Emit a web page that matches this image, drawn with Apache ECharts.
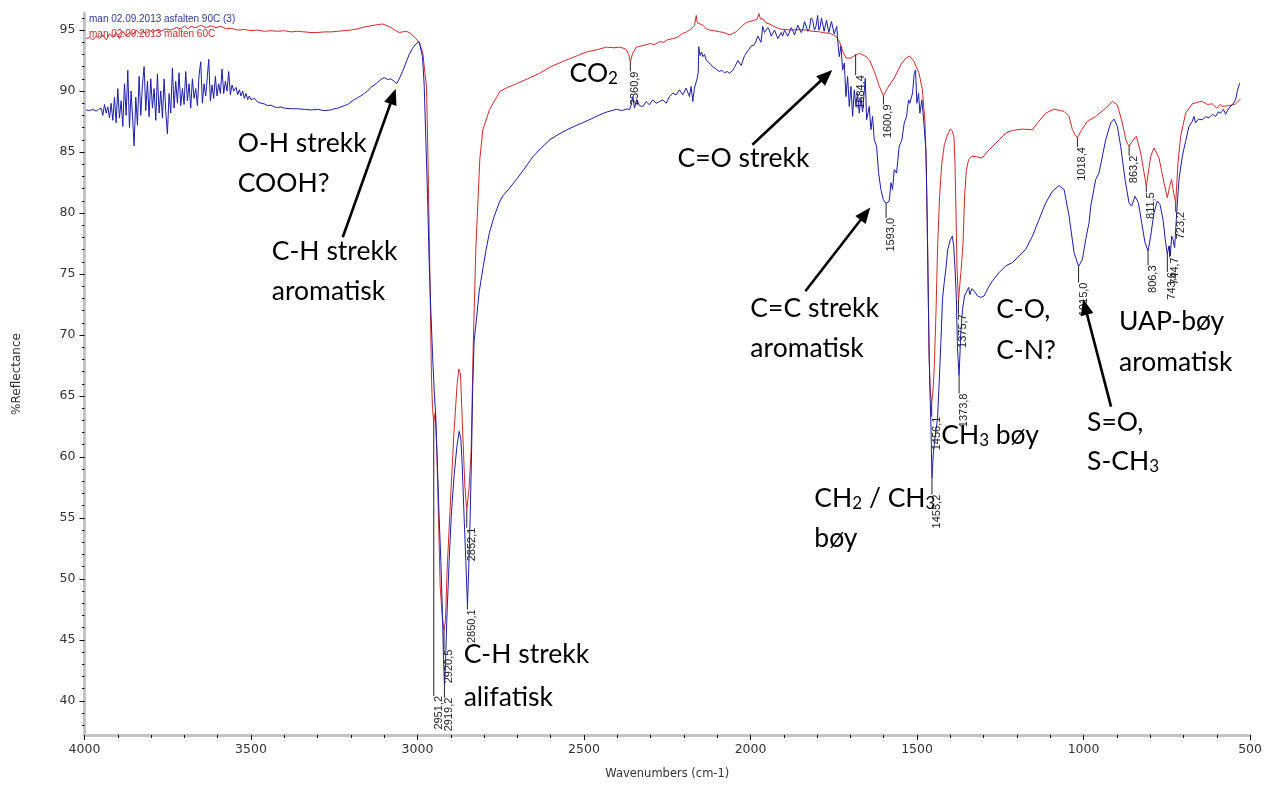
<!DOCTYPE html>
<html><head><meta charset="utf-8">
<script src="https://cdn.jsdelivr.net/npm/echarts@6/dist/echarts.min.js"></script>
<style>html,body{margin:0;padding:0;background:#fff}#c{width:1265px;height:785px}</style>
</head><body><div id="c"></div>
<script>
// ---------- DATA ----------
const seriesNames = ['man 02.09.2013 asfalten 90C (3)', 'man 02.09.2013 malten 60C'];

// [wavenumber, %Reflectance]
const blueSpectrum = [
[3995,88.45],[3985,88.4],[3975,88.5],[3965,88.35],[3957,88.5],
[3950,88.6],[3945,88.0],[3940,88.9],[3935,88.2],[3930,88.7],[3925,87.8],[3920,89.0],[3915,87.6],[3910,89.5],[3905,87.4],
[3900,90.2],[3895,87.8],[3890,89.2],[3885,87.1],[3880,90.6],[3875,88.0],[3870,91.7],[3865,87.0],[3860,90.0],[3855,87.5],
[3851,85.5],[3846,89.5],[3841,87.2],[3836,91.2],[3831,88.0],[3826,90.5],[3821,92.0],[3816,88.4],[3811,90.8],[3806,87.9],
[3801,91.0],[3796,88.6],[3791,90.2],[3786,87.6],[3781,91.4],[3776,88.2],[3771,90.0],[3766,87.8],[3761,91.0],[3756,88.3],
[3751,86.5],[3746,89.8],[3741,88.2],[3736,91.9],[3731,88.6],[3726,90.8],[3721,89.0],[3716,91.5],[3711,88.8],[3706,90.2],
[3701,88.9],[3696,91.6],[3691,89.2],[3686,90.6],[3681,88.6],[3676,91.0],[3671,89.4],[3666,90.2],[3661,88.8],[3656,91.3],
[3651,92.4],[3646,89.0],[3641,90.6],[3636,89.6],[3631,91.2],[3627,92.6],[3622,89.2],[3617,90.5],[3612,89.4],[3607,91.2],
[3602,89.6],[3597,90.6],[3592,89.8],[3587,91.8],[3582,89.8],[3577,90.8],[3572,90.0],[3567,91.6],[3562,89.7],[3557,90.5],
[3552,90.0],[3545,90.3],[3540,89.7],[3535,90.1],[3530,89.6],[3525,90.0],[3520,89.4],[3515,89.8],[3510,89.3],[3505,89.6],
[3500,89.3],[3490,89.4],[3480,89.1],[3470,89.0],[3460,88.95],[3450,88.8],[3440,88.85],[3430,88.7],[3420,88.65],[3410,88.7],
[3400,88.6],[3380,88.55],[3360,88.55],[3340,88.5],[3320,88.45],[3300,88.5],[3280,88.4],[3260,88.45],[3250,88.55],[3240,88.6],
[3230,88.7],[3220,88.8],[3210,88.9],[3200,89.1],[3190,89.3],[3180,89.45],[3170,89.6],[3160,89.8],[3150,90.0],[3140,90.3],
[3130,90.5],[3120,90.7],[3110,90.95],[3100,91.1],[3090,90.95],[3080,91.0],[3070,90.8],[3063,90.6],[3055,91.0],[3045,91.6],
[3035,92.3],[3025,93.0],[3015,93.5],[3005,93.85],[2995,94.05],[2990,93.9],[2985,92.8],[2980,90.5],[2975,86.0],[2970,81.5],
[2965,76.0],[2960,72.0],[2955,68.5],[2950,65.5],[2945,63.2],[2940,59.0],[2935,55.0],[2930,51.5],[2925,47.0],[2922,43.5],
[2919.2,41.4],[2916,43.0],[2912,46.7],[2905,51.5],[2898,55.5],[2890,58.5],[2882,60.8],[2875,62.1],[2870,61.5],[2866,59.4],
[2860,55.0],[2855,51.5],[2850.1,47.8],[2846,51.0],[2842,55.0],[2838,60.0],[2834,66.0],[2830,69.5],[2823,71.3],[2815,73.5],
[2804,75.4],[2794,77.0],[2784,78.4],[2770,79.7],[2754,80.9],[2744,81.4],[2725,82.0],[2703,82.75],[2680,83.6],[2654,84.6],
[2630,85.3],[2603,86.0],[2580,86.4],[2553,86.8],[2530,87.1],[2504,87.4],[2480,87.7],[2453,88.05],[2430,88.3],[2403,88.5],
[2385,88.4],[2370,88.55],[2363.5,88.46],[2358,88.9],[2353.5,89.55],[2348.5,88.6],[2341.5,89.3],[2333.5,88.8],[2323.5,88.73],
[2313.5,89.14],[2303.5,88.87],[2293.5,89.28],[2283.5,89.0],[2273.5,89.14],[2263.5,89.28],[2253.5,89.0],[2243.5,89.55],
[2233.5,89.83],[2223.5,89.69],[2213.5,90.1],[2203.5,89.69],[2193.5,90.24],[2183.5,89.55],[2178.5,90.37],[2173.5,89.14],
[2168.5,90.24],[2161.5,90.9],[2157,91.5],[2155.5,93.64],[2151.5,92.9],[2147,93.2],[2143.5,92.82],[2138,93.0],[2133.5,92.55],
[2128,92.7],[2123.5,92.3],[2118,92.4],[2113.5,92.0],[2108,92.1],[2103.5,91.8],[2098,91.9],[2093.5,91.6],[2086,91.7],
[2078.5,91.5],[2070,91.6],[2063.5,91.45],[2058,91.6],[2053.5,91.7],[2048,91.95],[2043.5,92.0],[2038,92.5],[2033.5,92.4],
[2028,92.1],[2023.5,92.2],[2018,92.9],[2013.5,92.8],[2008,93.3],[2003.5,93.2],[1998,93.7],[1993.5,93.6],[1988,93.8],
[1983.5,93.9],[1978,94.5],[1973.5,94.45],[1968.5,94.0],[1963.5,95.3],[1958,94.8],[1953.5,94.9],[1948,95.2],[1943.5,95.0],
[1938,94.5],[1933.5,94.6],[1928,95.0],[1923.5,94.9],[1918,94.3],[1913.5,94.4],[1908,94.8],[1903.5,94.5],[1898,95.0],
[1893.5,94.9],[1888,94.5],[1883.5,94.6],[1878,95.2],[1873.5,95.0],[1868,94.6],[1863.5,94.7],[1858,95.4],[1853.5,95.3],
[1848,94.8],[1843.5,95.0],[1838,95.7],[1833.5,95.6],[1828,94.9],[1823.5,95.1],[1818,96.0],[1813.5,95.8],[1808,95.0],
[1803.5,95.3],[1798.5,96.2],[1795,95.0],[1791.5,95.2],[1787,96.0],[1783.5,95.9],[1779,94.9],[1775.5,95.0],[1772,95.8],
[1768.5,95.7],[1765,94.8],[1761.5,94.9],[1757,95.7],[1753.5,95.6],[1749,94.7],[1745.5,94.8],[1741,95.3],[1738.5,94.18],
[1733.5,92.82],[1728.5,93.7],[1723.5,91.73],[1718.5,92.3],[1713.5,89.55],[1708.5,91.2],[1703.5,88.73],[1698.5,90.37],
[1693.5,87.92],[1688.5,90.1],[1683.5,88.73],[1678.5,89.83],[1673.5,88.19],[1668.5,89.4],[1663.5,88.3],[1655.5,91.05],
[1651.5,87.65],[1643.5,88.73],[1638.5,86.83],[1633.5,87.92],[1628.5,86.0],[1621.5,85.47],[1615.5,83.29],[1608.5,81.93],
[1601.5,81.11],[1593,80.78],[1583.5,80.97],[1578.5,82.48],[1573.5,81.93],[1568.5,83.56],[1561.5,83.29],[1553.5,85.47],
[1545.5,86.0],[1538.5,87.38],[1531.5,87.92],[1525.5,89.28],[1521.5,89.0],[1513.5,89.83],[1508.5,91.46],[1504.5,91.73],
[1500.5,89.0],[1495.5,89.83],[1491.5,88.19],[1485.5,89.28],[1479.5,87.38],[1473.5,85.2],[1470.5,81.0],[1467,74.5],
[1463.5,68.31],[1461.5,65.59],[1458.5,62.87],[1455.2,58.24],[1451.5,60.14],[1445.5,61.77],[1438.5,63.14],[1433.5,66.14],
[1428.5,69.4],[1423.5,72.94],[1418.5,74.3],[1413.5,75.39],[1408,77.0],[1400,77.8],[1394,78.1],[1390,77.3],[1386,75.5],
[1382,73.0],[1378.5,68.87],[1373.8,66.67],[1368.5,70.22],[1363.5,72.1],[1357.5,73.2],[1352,73.5],[1348.5,73.6],[1345,73.9],
[1341.5,73.3],[1335.5,73.8],[1328.5,73.6],[1318.5,73.2],[1308.5,73.08],[1298.5,73.2],[1288.5,73.76],[1273.5,74.44],
[1253.5,75.12],[1233.5,75.67],[1213.5,75.94],[1193.5,76.48],[1173.5,77.03],[1153.5,78.11],[1133.5,79.48],[1113.5,80.84],
[1093.5,81.79],[1073.5,82.25],[1058.5,81.93],[1043.5,79.75],[1028.5,76.75],[1015,75.61],[1003.5,76.21],[993.5,77.84],
[983.5,79.21],[978.5,80.56],[963.5,82.75],[953.5,83.29],[933.5,86.01],[918.5,87.38],[908.5,87.7],[898.5,87.1],[888.5,85.47],
[875.5,82.75],[863.5,80.84],[855.5,80.57],[845.5,81.38],[835.5,80.84],[825.5,79.21],[815.5,77.57],[806.3,76.89],[798.5,78.11],
[788.5,80.02],[778.5,80.98],[770.5,80.7],[761.5,79.48],[753.5,77.57],[748.5,76.62],[743.5,77.3],[739.5,76.48],[735.5,78.11],
[731.5,77.84],[726.5,77.16],[721.5,79.48],[713.5,82.75],[703.5,84.65],[693.5,85.88],[683.5,87.1],[673.5,87.51],[668.5,87.92],
[663.5,87.4],[655,87.7],[643.5,87.65],[633,87.9],[623.5,87.8],[613,88.1],[603.5,87.92],[595,88.3],[588.5,88.19],[580,88.5],
[573.5,88.1],[563.5,88.6],[553.5,88.87],[543.5,89.28],[538.5,89.96],[531.5,90.64]
];

const redSpectrum = [
[3995,94.3],[3985,94.4],[3975,94.2],[3965,94.5],[3955,94.3],[3945,94.6],[3935,94.2],[3925,94.7],[3915,94.4],[3905,94.8],
[3895,94.3],[3885,94.9],[3875,94.5],[3865,94.8],[3855,94.6],[3845,95.0],[3835,94.7],[3825,94.9],[3815,94.7],[3805,95.0],
[3795,94.8],[3785,95.0],[3770,94.9],[3755,95.1],[3740,95.0],[3725,95.2],[3710,95.1],[3700,95.35],[3690,95.1],[3680,95.3],
[3665,95.2],[3650,95.4],[3635,95.2],[3620,95.35],[3605,95.2],[3590,95.3],[3575,95.1],[3560,95.15],[3540,95.0],[3520,95.05],
[3500,94.95],[3480,95.0],[3460,94.9],[3440,94.95],[3420,94.9],[3400,94.95],[3380,94.85],[3360,94.9],[3340,94.85],[3320,94.8],
[3300,94.8],[3280,94.85],[3260,94.85],[3240,94.9],[3220,94.95],[3200,95.0],[3180,95.1],[3160,95.25],[3140,95.35],[3120,95.45],
[3105,95.5],[3095,95.4],[3080,95.2],[3065,94.95],[3055,94.8],[3045,94.85],[3035,94.9],[3025,94.8],[3015,94.6],[3005,94.3],
[2995,94.0],[2990,93.6],[2984,93.1],[2978,91.5],[2973,90.4],[2969,85.0],[2964,76.8],[2958,66.4],[2955,64.0],[2951.2,62.8],
[2947,63.6],[2942,60.5],[2937,55.0],[2932,49.4],[2926,47.0],[2920.5,45.7],[2916,46.7],[2911,50.8],[2901,56.4],[2891,61.8],
[2881,66.0],[2876,67.2],[2871,66.8],[2866,63.2],[2858,57.7],[2852.1,55.6],[2845,57.5],[2839,60.5],[2833,68.8],[2825,77.0],
[2813,84.4],[2804,86.8],[2784,88.46],[2753,89.96],[2730,90.3],[2703,90.6],[2670,91.0],[2633,91.46],[2600,92.0],[2553,92.55],
[2520,92.9],[2493,93.2],[2460,93.4],[2433,93.6],[2410,93.55],[2393,93.6],[2380,93.5],[2373,93.4],[2366,93.0],[2360.9,92.4],
[2354,93.1],[2343,93.6],[2320,93.75],[2300,93.9],[2290,93.8],[2273,94.05],[2260,94.0],[2250,94.2],[2234,94.3],[2220,94.4],
[2204,94.73],[2195,94.8],[2183,95.0],[2175,95.2],[2168,95.4],[2163,96.2],[2160,95.6],[2155,95.5],[2143,95.4],[2133,95.1],
[2123,95.0],[2110,94.95],[2093,94.86],[2080,94.8],[2063,94.6],[2055,94.7],[2043,94.86],[2033,95.1],[2023,95.4],[2013,95.6],
[2004,95.7],[1995,95.75],[1988,95.8],[1980,95.9],[1975,96.36],[1970,95.9],[1963,95.95],[1955,95.6],[1943,95.5],[1930,95.3],
[1913,95.1],[1900,95.05],[1874,95.0],[1855,95.05],[1833,95.0],[1815,94.9],[1793,94.86],[1780,94.78],[1763,94.73],[1750,94.6],
[1743,94.46],[1733,94.05],[1723,93.23],[1713,92.7],[1708,92.55],[1700,92.7],[1693,92.82],[1680,93.0],[1673,93.1],[1665,93.0],
[1653,92.82],[1643,92.55],[1628,91.6],[1613,90.37],[1600.9,89.6],[1589,90.24],[1569,91.05],[1549,92.14],[1534,92.69],
[1522,92.88],[1509,92.41],[1494,91.46],[1484,90.1],[1476,87.38],[1472,83.5],[1468,77.0],[1464,68.3],[1460,65.3],[1456.1,64.4],
[1452,65.5],[1448,67.5],[1443,72.0],[1438,77.5],[1432,81.5],[1426,84.0],[1418,85.6],[1410,86.3],[1400,86.9],[1394,86.7],
[1389,86.2],[1386,84.0],[1383,80.0],[1380,75.5],[1375.7,72.8],[1372,74.0],[1368,75.2],[1362,77.5],[1357,81.5],[1352,83.5],
[1345,84.4],[1335,84.65],[1320,84.6],[1305,84.5],[1290,85.0],[1275,85.4],[1253.5,86.0],[1233.5,86.56],[1213.5,86.77],
[1183.5,86.88],[1153.5,86.83],[1138.5,87.38],[1113.5,88.19],[1088.5,88.52],[1058.5,88.33],[1043.5,87.92],[1033.5,86.83],
[1025,86.4],[1018.4,86.15],[1008.5,86.7],[988.5,87.51],[963.5,87.92],[933.5,88.6],[913.5,89.15],[898.5,88.87],[883.5,87.38],
[872,85.9],[863.2,85.47],[853.5,85.9],[841.5,86.29],[828.5,84.93],[811.5,82.2],[798.5,84.65],[788.5,85.33],[773.5,84.52],
[758.5,82.48],[748.5,81.25],[741.5,82.2],[735.5,82.75],[729.5,81.66],[723.2,80.84],[716.5,84.11],[708.5,86.29],[693.5,88.19],
[673.5,88.95],[655,89.1],[643.5,89.15],[628,88.9],[613.5,88.95],[600,88.6],[590,88.9],[583.5,88.74],[563.5,88.8],
[543.5,88.95],[528.5,89.34]
];

const yTickValues = [40,45,50,55,60,65,70,75,80,85,90,95];
const yMinorTickValues = [38,39,40,41,42,43,44,45,46,47,48,49,50,51,52,53,54,55,56,57,58,59,60,61,62,63,64,65,66,67,68,69,70,71,72,73,74,75,76,77,78,79,80,81,82,83,84,85,86,87,88,89,90,91,92,93,94,95,96];

// peak labels: [wavenumber, value at peak, value where leader ends, text]
const peakLabels = [
[2951.2,62.8,40.4,'2951,2'],
[2919.2,41.4,40.26,'2919,2'],
[2920.5,45.7,44.2,'2920,5'],
[2850.1,47.8,47.5,'2850,1'],
[2852.1,55.6,54.2,'2852,1'],
[2360.9,92.4,91.6,'2360,9'],
[1684.4,93.0,91.3,'1684,4'],
[1600.9,89.6,88.9,'1600,9'],
[1593.0,80.78,79.6,'1593,0'],
[1456.1,64.4,63.3,'1456,1'],
[1455.2,58.24,56.9,'1455,2'],
[1375.7,72.8,71.7,'1375,7'],
[1373.8,66.67,65.2,'1373,8'],
[1018.4,86.15,85.4,'1018,4'],
[1015.0,75.61,74.3,'1015,0'],
[863.2,85.47,84.7,'863,2'],
[811.5,82.2,81.7,'811,5'],
[806.3,76.89,75.7,'806,3'],
[748.5,76.62,75.15,'743,6'],
[741.5,77.3,76.37,'744,7'],
[723.2,80.84,80.1,'723,2']
];

// annotation lines: [wavenumber (left edge), value (line middle), text]
const annotations = [
[3540,85.69,'O-H strekk'],
[3540,82.42,'COOH?'],
[3437.5,76.86,'C-H strekk'],
[3437.5,73.59,'aromatisk'],
[2543.5,91.41,'CO{s|2}'],
[2219.5,84.46,'C=O strekk'],
[2861.5,43.77,'C-H strekk'],
[2861.5,40.26,'alifatisk'],
[2000.5,72.21,'C=C strekk'],
[2000.5,68.86,'aromatisk'],
[1808.5,56.6,'CH{s|2} / CH{s|3}'],
[1808.5,53.33,'bøy'],
[1427.5,61.75,'CH{s|3} bøy'],
[1262.5,72.12,'C-O,'],
[1262.5,68.69,'C-N?'],
[989.5,62.81,'S=O,'],
[989.5,59.62,'S-CH{s|3}'],
[893.5,71.14,'UAP-bøy'],
[893.5,67.71,'aromatisk']
];

// arrows: [from wavenumber, from value, to wavenumber, to value]
const arrows = [
[3224.5,78.01,3065.5,90.18],
[1994.5,85.6,1754.5,91.73],
[1835.5,73.59,1640.5,80.46],
[917.5,64.12,1001.5,72.94]
];

// ---------- CHART ----------
const chart = echarts.init(document.getElementById('c'), null, {renderer: 'canvas'});
const axisFont = 'DejaVu Sans';
const annoFont = 'Lato';

const option = {
  animation: false,
  backgroundColor: '#ffffff',
  grid: {left: 84.5, right: 14, top: 13, bottom: 48, containLabel: false},
  legend: {
    data: [
      {name: seriesNames[0], textStyle: {color: '#2c3a9c'}},
      {name: seriesNames[1], textStyle: {color: '#c23030'}}
    ],
    orient: 'vertical', left: 83, top: 14, padding: 0,
    itemWidth: 0, itemHeight: 0, itemGap: 5, selectedMode: false,
    textStyle: {fontSize: 10, fontFamily: 'Liberation Sans'}
  },
  xAxis: {
    type: 'value', inverse: true, min: 500, max: 4000, interval: 500,
    name: 'Wavenumbers (cm-1)', nameLocation: 'middle', nameGap: 33,
    nameTextStyle: {fontSize: 11.5, fontFamily: axisFont, color: '#333'},
    axisLine: {show: true, onZero: false, lineStyle: {color: '#c4c4c4', width: 3}},
    axisTick: {show: true, length: 5, lineStyle: {color: '#111', width: 1}},
    minorTick: {show: true, splitNumber: 5, length: 3, lineStyle: {color: '#111', width: 1}},
    axisLabel: {color: '#333', fontSize: 12.5, fontFamily: axisFont, margin: 8, formatter: function (v) { return String(v); }},
    splitLine: {show: false}, minorSplitLine: {show: false}
  },
  yAxis: [{
    type: 'value', min: 37.2, max: 96.4,
    name: '%Reflectance', nameLocation: 'middle', nameGap: 62, nameRotate: 90,
    nameTextStyle: {fontSize: 12, fontFamily: axisFont, color: '#333'},
    axisLine: {show: true, onZero: false, lineStyle: {color: '#c4c4c4', width: 3}},
    axisTick: {show: true, length: 5, customValues: yTickValues, lineStyle: {color: '#111', width: 1}},
    axisLabel: {color: '#333', fontSize: 12.5, fontFamily: axisFont, margin: 9, customValues: yTickValues, formatter: function (v) { return String(v); }},
    splitLine: {show: false}
  }, {
    type: 'value', min: 37.2, max: 96.4, position: 'left', offset: 0,
    axisLine: {show: false}, axisLabel: {show: false}, splitLine: {show: false},
    axisTick: {show: true, length: 2.5, customValues: yMinorTickValues, lineStyle: {color: '#111', width: 1}}
  }],
  series: [
    {
      name: seriesNames[1], type: 'line', data: redSpectrum, showSymbol: false, symbol: 'none',
      lineStyle: {width: 1, color: '#cf2a2a'}, itemStyle: {color: '#cf2a2a'}, z: 2
    },
    {
      name: seriesNames[0], type: 'line', data: blueSpectrum, showSymbol: false, symbol: 'none',
      lineStyle: {width: 1, color: '#1d1daa'}, itemStyle: {color: '#1d1daa'}, z: 3
    },
    {
      type: 'custom', coordinateSystem: 'cartesian2d', silent: true, z: 4,
      data: peakLabels.map(p => [p[0], p[1], p[2]]),
      encode: {x: 0, y: [1, 2]},
      renderItem: function (params, api) {
        const a = api.coord([api.value(0), api.value(1)]);
        const b = api.coord([api.value(0), api.value(2)]);
        return {
          type: 'group', children: [
            {type: 'line', shape: {x1: a[0], y1: a[1], x2: b[0], y2: b[1]}, style: {stroke: '#222', lineWidth: 1}},
            {type: 'text', x: b[0] + 5, y: b[1], rotation: Math.PI / 2,
             style: {text: peakLabels[params.dataIndex][3], fill: '#222', font: '11px "Liberation Sans"', align: 'right', verticalAlign: 'middle'}}
          ]
        };
      }
    },
    {
      type: 'custom', coordinateSystem: 'cartesian2d', silent: true, z: 5,
      data: arrows,
      encode: {x: [0, 2], y: [1, 3]},
      renderItem: function (params, api) {
        const p1 = api.coord([api.value(0), api.value(1)]);
        const p2 = api.coord([api.value(2), api.value(3)]);
        const dx = p2[0] - p1[0], dy = p2[1] - p1[1];
        const len = Math.sqrt(dx * dx + dy * dy);
        const ux = dx / len, uy = dy / len;
        const L = 16, W = 6.5;
        const bx = p2[0] - ux * L, by = p2[1] - uy * L;
        return {
          type: 'group', children: [
            {type: 'line', shape: {x1: p1[0], y1: p1[1], x2: bx + ux * 2, y2: by + uy * 2}, style: {stroke: '#000', lineWidth: 2.6}},
            {type: 'polygon', shape: {points: [[p2[0], p2[1]], [bx - uy * W, by + ux * W], [bx + uy * W, by - ux * W]]}, style: {fill: '#000'}}
          ]
        };
      }
    },
    {
      type: 'custom', coordinateSystem: 'cartesian2d', silent: true, z: 6,
      data: annotations.map(a => [a[0], a[1]]),
      encode: {x: 0, y: 1},
      renderItem: function (params, api) {
        const p = api.coord([api.value(0), api.value(1)]);
        return {
          type: 'text', x: p[0], y: p[1],
          style: {
            text: annotations[params.dataIndex][2], fill: '#000',
            fontSize: 26.5, fontFamily: annoFont, align: 'left', verticalAlign: 'middle',
            rich: {s: {fontSize: 17, fontFamily: annoFont, lineHeight: 14, verticalAlign: 'bottom', fill: '#000'}}
          }
        };
      }
    }
  ]
};
chart.setOption(option);
</script>
</body></html>
